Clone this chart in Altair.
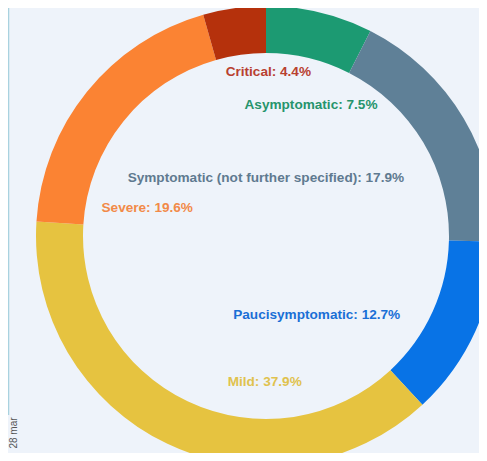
import altair as alt
import pandas as pd

categories = ["Asymptomatic", "Symptomatic (not further specified)", "Paucisymptomatic",
              "Mild", "Severe", "Critical"]
values = [7.5, 17.9, 12.7, 37.9, 19.6, 4.4]
slice_colors = ["#1c9a72", "#5f8097", "#0873e6", "#e6c340", "#fb8333", "#b5310c"]
label_colors = ["#26946c", "#5f7a90", "#1a6fd6", "#e0c24e", "#f28a48", "#b84030"]
order = [0, 1, 2, 3, 4, 5]

df = pd.DataFrame({"category": categories, "value": values, "order": order,
                   "label_color": label_colors})
df["label"] = [f"{c}: {v}%" for c, v in zip(categories, values)]

CX, CY = 258, 228
theta_scale = alt.Scale(domain=[0, 100], range=[0, 6.283185307])

base = alt.Chart(df).transform_window(
    cum="sum(value)", sort=[alt.SortField("order")], frame=[None, 0]
).transform_calculate(
    start="datum.cum - datum.value", mid="datum.cum - datum.value / 2"
)

arcs = base.mark_arc(outerRadius=230, innerRadius=183, stroke=None).encode(
    theta=alt.Theta("start:Q", scale=theta_scale),
    theta2="cum:Q",
    x=alt.value(CX), y=alt.value(CY),
    color=alt.Color("category:N", scale=alt.Scale(domain=categories, range=slice_colors), legend=None),
)

offsets = {
    "Asymptomatic": (10, 15),
    "Symptomatic (not further specified)": (-129, 19),
    "Paucisymptomatic": (-86, 17),
    "Mild": (63, 10),
    "Severe": (-2, 66),
    "Critical": (23, -15),
}

layers = [arcs]
for cat in categories:
    dx, dy = offsets[cat]
    layers.append(
        base.transform_filter(alt.datum.category == cat).mark_text(
            radius=150, dx=dx, dy=dy, align="center", baseline="middle",
            font="Liberation Sans", fontWeight="bold", fontSize=13.6,
        ).encode(
            theta=alt.Theta("mid:Q", scale=theta_scale),
            x=alt.value(CX), y=alt.value(CY),
            text="label:N",
            color=alt.Color("label_color:N", scale=None),
        )
    )

edge = alt.Chart(pd.DataFrame({"a": [0]})).mark_rule(color="#a9d2df", strokeWidth=1.5).encode(
    x=alt.value(0.5), y=alt.value(0), y2=alt.value(407)
)
side_text = alt.Chart(pd.DataFrame({"t": ["28 mar"]})).mark_text(
    angle=270, fontSize=10, color="#555555", font="Liberation Sans", align="center", baseline="middle"
).encode(text="t:N", x=alt.value(6), y=alt.value(425))
layers += [edge, side_text]

chart = alt.layer(*layers).properties(
    width=471, height=445, padding=0, autosize="none", background="#eef3fa"
).configure_view(stroke=None)

chart.save("out.html", embed_options={"renderer": "svg", "actions": False})
